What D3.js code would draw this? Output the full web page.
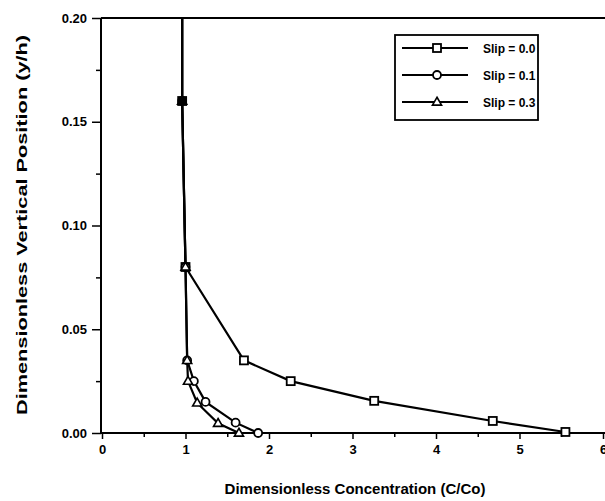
<!DOCTYPE html>
<html><head><meta charset="utf-8">
<script src="https://cdn.jsdelivr.net/npm/d3@7/dist/d3.min.js"></script>
<style>
html,body{margin:0;padding:0;background:#fff;}
text{font-family:"Liberation Sans",Arial,sans-serif;fill:#000;}
</style></head>
<body><svg id="c" width="605" height="501"></svg>
<script>
const xTicks = [0,1,2,3,4,5,6];
const yTicks = [0.00,0.05,0.10,0.15,0.20];
const seriesNames = ["Slip = 0.0","Slip = 0.1","Slip = 0.3"];
const slip00 = [[0.96,0.20],[0.96,0.16],[1.0,0.08],[1.70,0.035],[2.26,0.025],[3.26,0.0155],[4.68,0.0058],[5.55,0.0005]];
const slip01 = [[0.96,0.20],[0.96,0.16],[1.0,0.08],[1.02,0.035],[1.10,0.025],[1.24,0.015],[1.60,0.005],[1.87,0.0]];
const slip03 = [[0.96,0.20],[0.96,0.16],[1.0,0.08],[1.02,0.035],[1.03,0.025],[1.14,0.0145],[1.39,0.0047],[1.64,0.0]];
const markers = ["square","circle","triangle"];

const svg = d3.select("#c");
const x = d3.scaleLinear().domain([0,6]).range([102,603]);
const y = d3.scaleLinear().domain([0,0.2]).range([433,18]);

svg.append("line").attr("x1",101).attr("x2",605).attr("y1",y(0.2)).attr("y2",y(0.2))
  .attr("stroke","#000").attr("stroke-width",2);

const ya = svg.append("g").attr("transform","translate(101,0)");
ya.call(d3.axisLeft(y).tickValues(yTicks).tickFormat(d3.format(".2f")).tickSize(9).tickPadding(5));
ya.append("g").call(d3.axisLeft(y).tickValues(d3.range(0.025,0.2,0.05)).tickFormat("").tickSize(5));
ya.selectAll("path").attr("stroke","#000").attr("stroke-width",2);
ya.selectAll("line").attr("stroke","#000").attr("stroke-width",1.5);
ya.selectAll("text").style("font-size","13px").style("font-weight","bold").attr("fill","#000");
ya.selectAll(".domain").attr("d",`M0,${y(0)}V${y(0.2)}`);

const xa = svg.append("g").attr("transform",`translate(0,${y(0)})`);
xa.call(d3.axisBottom(x).tickValues(xTicks).tickFormat(d3.format("d")).tickSize(6).tickPadding(6));
xa.append("g").call(d3.axisBottom(x).tickValues(d3.range(0.5,6,1)).tickFormat("").tickSize(4));
xa.selectAll("path").attr("stroke","#000").attr("stroke-width",2);
xa.selectAll(".domain").attr("d",`M101,0H605`);
xa.selectAll("line").attr("stroke","#000").attr("stroke-width",1.5);
xa.selectAll("text").style("font-size","13px").style("font-weight","bold").attr("fill","#000");

svg.append("text").attr("x",355).attr("y",494).attr("text-anchor","middle")
  .style("font-size","15px").style("font-weight","bold").text("Dimensionless Concentration (C/Co)");
svg.append("text").attr("transform","translate(27,225) rotate(-90)").attr("text-anchor","middle")
  .attr("textLength",380).attr("lengthAdjust","spacingAndGlyphs")
  .style("font-size","15.5px").style("font-weight","bold").text("Dimensionless Vertical Position (y/h)");

const line = d3.line().x(d=>x(d[0])).y(d=>y(d[1]));
const allSeries = [slip00,slip01,slip03];

function drawMarker(g, type, cx, cy){
  if(type==="square"){
    g.append("rect").attr("x",cx-4).attr("y",cy-4).attr("width",8).attr("height",8)
      .attr("fill","#fff").attr("stroke","#000").attr("stroke-width",1.8);
  } else if(type==="circle"){
    g.append("circle").attr("cx",cx).attr("cy",cy).attr("r",4)
      .attr("fill","#fff").attr("stroke","#000").attr("stroke-width",1.8);
  } else {
    g.append("path").attr("d",d3.symbol().type(d3.symbolTriangle).size(36)())
      .attr("transform",`translate(${cx},${cy+0.5})`)
      .attr("fill","#fff").attr("stroke","#000").attr("stroke-width",1.6);
  }
}

allSeries.forEach(s=>{
  svg.append("path").datum(s).attr("d",line).attr("fill","none")
    .attr("stroke","#000").attr("stroke-width",2.2);
});
allSeries.forEach((s,i)=>{
  const g = svg.append("g");
  s.filter(d=>d[1]<0.2).forEach(d=>drawMarker(g, markers[i], x(d[0]), y(d[1])));
});
svg.append("rect").attr("x",x(0.96)-4).attr("y",y(0.16)-4).attr("width",8).attr("height",8).attr("fill","#000");

const lg = svg.append("g");
lg.append("rect").attr("x",395).attr("y",35).attr("width",143).attr("height",85)
  .attr("fill","#fff").attr("stroke","#000").attr("stroke-width",1.8);
seriesNames.forEach((n,i)=>{
  const yy = 48 + i*27;
  lg.append("line").attr("x1",402).attr("x2",468).attr("y1",yy).attr("y2",yy)
    .attr("stroke","#000").attr("stroke-width",1.8);
  drawMarker(lg, markers[i], 437, yy);
  lg.append("text").attr("x",483).attr("y",yy+4.5).style("font-size","12px").style("font-weight","bold").text(n);
});
</script></body></html>
